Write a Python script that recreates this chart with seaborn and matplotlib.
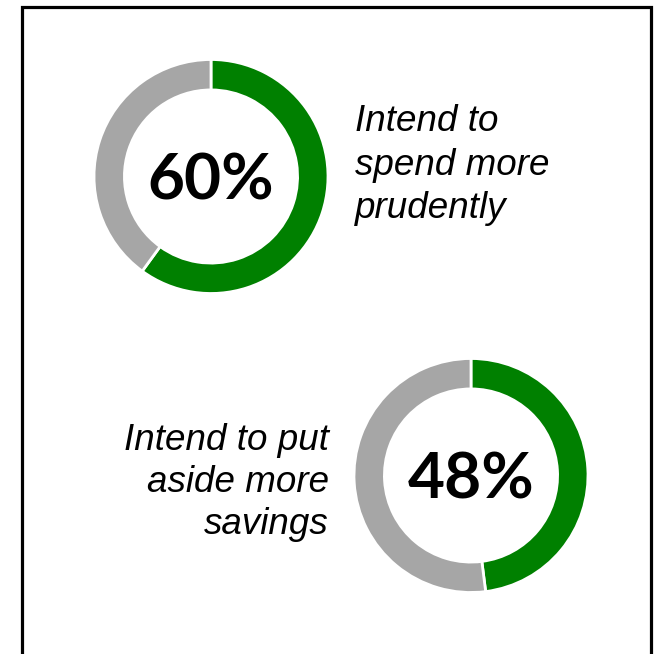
import matplotlib
matplotlib.use("Agg")
import matplotlib.pyplot as plt
import seaborn as sns
from matplotlib.patches import Rectangle

sns.set_theme(style="white")
plt.rcParams["font.family"] = ["Liberation Sans", "DejaVu Sans"]

# Survey results: share of respondents (%)
labels = ["Intend to\nspend more\nprudently", "Intend to put\naside more\nsavings"]
shares = [60, 48]
colors = ["#008000", "#A6A6A6"]

W, H = 661, 654
fig = plt.figure(figsize=(W / 100, H / 100), dpi=100)
fig.patch.set_facecolor("white")

# outer frame (open at the bottom edge)
fig.add_artist(Rectangle((22 / W, -0.05), 629 / W, 1.05 - 7 / H,
                         transform=fig.transFigure, fill=False,
                         edgecolor="black", linewidth=2.3))


def donut(cx, cy, r, value):
    ax = fig.add_axes([(cx - r) / W, 1 - (cy + r) / H, 2 * r / W, 2 * r / H])
    ax.pie([value, 100 - value], colors=colors, startangle=90,
           counterclock=False, radius=1.0,
           wedgeprops=dict(width=0.26, edgecolor="white", linewidth=2))
    ax.set_xlim(-1, 1)
    ax.set_ylim(-1, 1)
    ax.set_aspect("equal")
    ax.axis("off")
    ax.text(0, 0, f"{value}%", ha="center", va="center_baseline",
            fontsize=46, fontweight="bold", family=["Lato", "DejaVu Sans"],
            color="black")
    return ax


donut(211, 176.5, 117, shares[0])
donut(471, 475.5, 117, shares[1])

fig.text(355 / W, 1 - 104 / H, labels[0], ha="left", va="top",
         fontsize=26.5, style="italic", linespacing=1.32, color="black")
fig.text(329 / W, 1 - 423 / H, labels[1], ha="right", va="top",
         fontsize=26.5, style="italic", linespacing=1.25, color="black",
         multialignment="right")

fig.savefig("out.png", dpi=100, facecolor="white")
